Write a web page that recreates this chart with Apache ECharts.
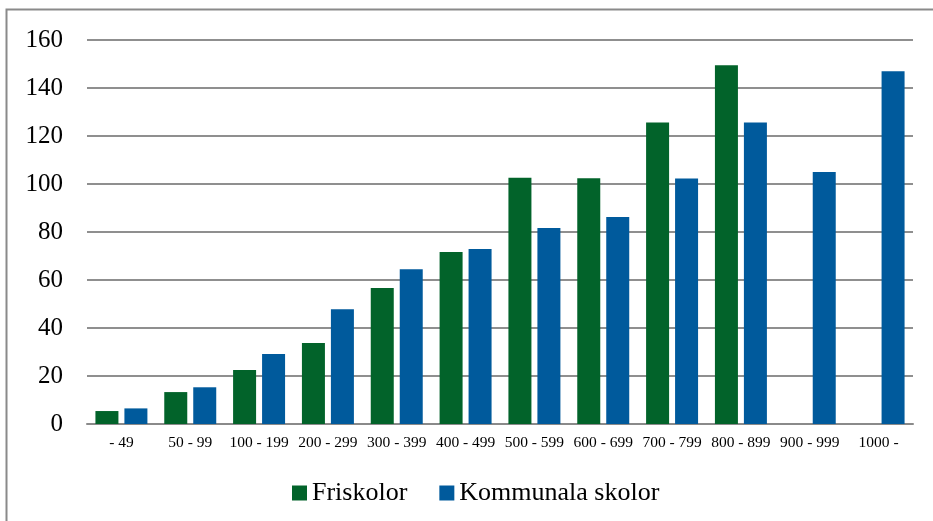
<!DOCTYPE html>
<html>
<head>
<meta charset="utf-8">
<script src="https://cdn.jsdelivr.net/npm/echarts@6/dist/echarts.min.js"></script>
<style>
html,body{margin:0;padding:0;background:#fff;}
#chart{width:933px;height:521px;}
</style>
</head>
<body>
<div id="chart"></div>
<script>
const categories = ['- 49','50 - 99','100 - 199','200 - 299','300 - 399','400 - 499','500 - 599','600 - 699','700 - 799','800 - 899','900 - 999','1000 -'];
const friskolor = [5.4, 13.3, 22.5, 33.7, 56.7, 71.7, 102.6, 102.4, 125.6, 149.5, null, null];
const kommunala = [6.5, 15.3, 29.2, 47.8, 64.5, 72.9, 81.7, 86.2, 102.3, 125.6, 105, 147];
const seriesNames = ['Friskolor', 'Kommunala skolor'];
const yTicks = {min: 0, max: 160, interval: 20};

const serif = '"Liberation Serif", "Times New Roman", serif';
const chart = echarts.init(document.getElementById('chart'), null, {renderer: 'canvas'});
chart.setOption({
  animation: false,
  backgroundColor: '#fff',
  graphic: [{
    type: 'rect',
    shape: {x: 6.5, y: 9.5, width: 1000, height: 1000},
    style: {fill: 'none', stroke: '#8a8a8a', lineWidth: 2},
    silent: true
  }],
  grid: {left: 87, right: 20, top: 40, bottom: 97, containLabel: false},
  legend: {
    bottom: 10,
    left: 287,
    itemWidth: 15,
    itemHeight: 15,
    itemGap: 32,
    icon: 'rect',
    textStyle: {fontFamily: serif, fontSize: 26, color: '#000'},
    data: seriesNames
  },
  xAxis: {
    type: 'category',
    data: categories,
    axisTick: {show: false},
    axisLine: {show: true, lineStyle: {color: '#8a8a8a', width: 2}},
    axisLabel: {fontFamily: serif, fontSize: 15.5, color: '#000', margin: 11, interval: 0}
  },
  yAxis: {
    type: 'value',
    min: yTicks.min, max: yTicks.max, interval: yTicks.interval,
    axisLine: {show: false},
    axisTick: {show: false},
    axisLabel: {fontFamily: serif, fontSize: 25, color: '#000', margin: 24},
    splitLine: {lineStyle: {color: '#8f8f8f', width: 2}}
  },
  series: [
    {name: seriesNames[0], type: 'bar', data: friskolor, barWidth: 23, barGap: '26%',
     itemStyle: {color: '#02632A'}},
    {name: seriesNames[1], type: 'bar', data: kommunala, barWidth: 23,
     itemStyle: {color: '#005A9C'}}
  ]
});
</script>
</body>
</html>
